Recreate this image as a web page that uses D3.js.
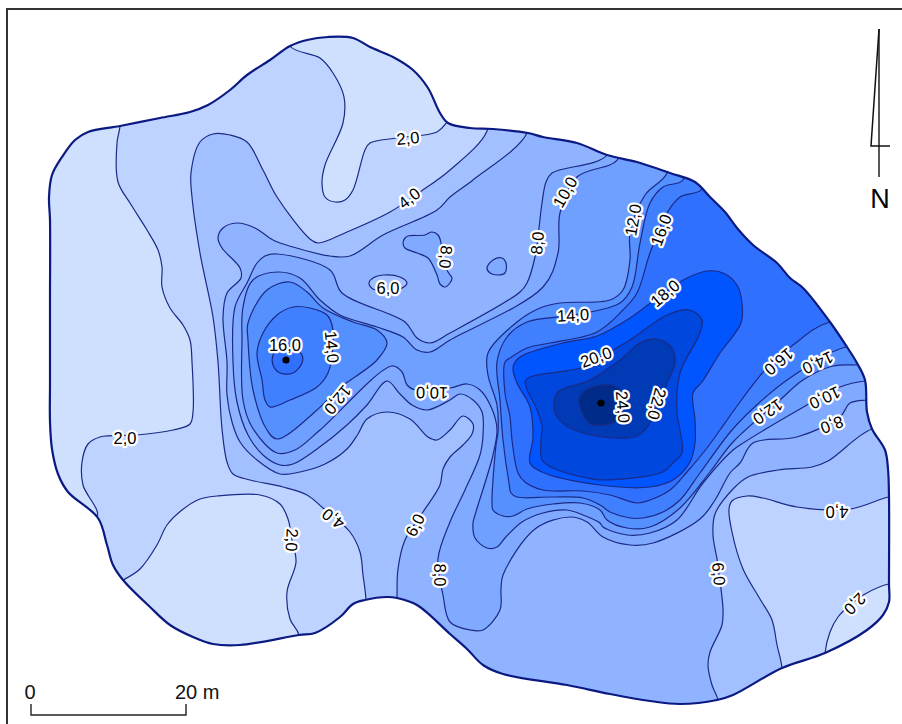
<!DOCTYPE html>
<html>
<head>
<meta charset="utf-8">
<script src="https://cdnjs.cloudflare.com/ajax/libs/d3/7.8.5/d3.min.js"></script>
<style>
html, body { margin: 0; padding: 0; background: #fff; }
svg { display: block; }
</style>
</head>
<body>
<div id="map"></div>
<script>
// Depth contours traced from the survey sheet, in map grid units.
// Rings that leave the site are closed outside it and get clipped by the boundary.
const boundary = [[50,220],[49,197],[52,175],[62,157],[75,140],[88,132],[120,126],[160,118],[190,112],[208,105],[230,90],[247,75],[270,60],[290,46],[307,40],[328,37],[353,38],[370,47],[393,57],[413,70],[428,88],[440,113],[448,123],[470,128],[493,129],[528,133],[543,137],[577,143],[607,155],[637,162],[670,173],[695,182],[710,197],[725,212],[737,228],[753,245],[777,263],[790,278],[803,288],[830,322],[847,347],[857,363],[865,380],[867,412],[872,429],[885,450],[888,469],[889,497],[889,584],[889,602],[883,615],[867,630],[825,653],[782,668],[733,695],[717,700],[680,704],[650,701],[610,694],[567,685],[503,674],[483,665],[467,649],[450,634],[417,605],[397,598],[387,597],[365,600],[353,604],[340,617],[315,633],[299,635],[240,645],[213,644],[193,637],[170,625],[150,607],[123,580],[113,565],[107,545],[98,518],[68,492],[58,474],[52,449],[50,422],[50,382],[50,300]];

const shallowLeft = [[120,126],[117,143],[118,182],[130,203],[147,230],[158,250],[162,267],[162,287],[170,308],[183,325],[190,340],[192,362],[193,412],[190,424],[173,430],[137,435],[100,437],[88,444],[82,462],[83,485],[97,517],[30,530],[30,110],[120,100]];
const shallowBottom = [[123,580],[140,569],[157,545],[167,525],[182,510],[200,499],[217,496],[260,495],[280,504],[288,519],[292,540],[296,562],[287,592],[290,619],[299,635],[299,675],[100,675],[100,590]];
const shallowTop = [[290,46],[320,58],[333,73],[344,97],[343,123],[325,165],[322,183],[325,197],[335,202],[345,200],[353,190],[365,150],[370,143],[397,138],[437,132],[447,122],[460,100],[460,15],[290,15]];
const shallowCorner = [[889,584],[865,594],[850,605],[838,617],[830,632],[825,653],[825,705],[902,705],[902,584]];

const depth4 = [[487,131],[450,170],[420,192],[390,212],[347,232],[318,243],[310,239],[277,197],[263,170],[247,142],[230,135],[213,134],[200,142],[191,173],[192,197],[200,253],[213,317],[218,362],[222,429],[227,462],[233,474],[250,480],[283,487],[307,495],[323,508],[350,532],[360,552],[363,575],[366,600],[366,720],[902,720],[902,100],[487,100]];
const depth4Hole = [[889,497],[850,509],[797,507],[763,498],[747,496],[732,501],[729,509],[732,532],[743,569],[760,599],[772,620],[777,645],[782,668],[782,720],[902,720],[902,497]];

const depth6 = [[527,133],[473,180],[450,197],[437,210],[383,235],[350,256],[330,256],[293,247],[273,240],[255,228],[237,223],[223,228],[218,238],[222,248],[240,268],[241,278],[227,293],[223,317],[227,362],[227,395],[232,422],[240,442],[257,460],[280,474],[300,472],[325,464],[347,449],[358,434],[367,419],[387,412],[410,419],[428,437],[437,440],[450,430],[463,416],[473,424],[472,434],[463,445],[450,457],[443,469],[440,485],[423,512],[405,540],[398,569],[397,598],[397,720],[718,720],[718,700],[712,685],[708,665],[710,652],[722,625],[723,609],[719,574],[717,559],[713,535],[715,514],[733,489],[748,477],[778,470],[812,467],[828,461],[872,429],[902,429],[902,100],[527,100]];
const depth6Island = [[369,283],[373,278],[383,275],[400,277],[407,283],[400,289],[385,291],[373,289]];

const depth8 = [[607,155],[552,173],[546,182],[542,203],[535,257],[527,283],[520,292],[450,333],[430,343],[417,338],[405,322],[342,293],[330,270],[277,254],[265,256],[257,263],[247,283],[235,307],[233,362],[237,402],[248,435],[263,455],[280,465],[293,464],[317,449],[347,425],[367,405],[387,381],[400,394],[412,405],[427,410],[450,400],[460,394],[473,400],[482,412],[483,435],[480,455],[465,490],[450,522],[438,559],[443,595],[450,622],[470,630],[483,630],[500,610],[501,589],[503,575],[535,529],[570,517],[587,522],[603,537],[630,545],[653,543],[700,519],[715,500],[730,473],[740,463],[753,443],[797,437],[840,417],[850,403],[867,400],[902,400],[902,120],[607,120]];
const depth8IslandA = [[405,238],[408,236],[425,235],[432,232],[438,235],[441,243],[441,250],[448,272],[452,278],[450,283],[445,287],[440,284],[437,275],[428,258],[417,253],[405,248],[403,243]];
const depth8IslandB = [[487,268],[493,260],[502,258],[506,263],[505,273],[498,275],[490,273]];

const depth10 = [[618,159],[577,177],[560,213],[558,253],[543,287],[450,340],[430,352],[417,350],[403,337],[377,327],[340,315],[320,300],[300,278],[278,272],[253,280],[243,307],[242,340],[243,400],[252,427],[277,453],[295,450],[320,430],[392,366],[402,372],[407,385],[415,390],[450,388],[467,384],[480,390],[492,409],[497,429],[493,455],[475,515],[473,523],[475,538],[487,548],[497,547],[505,538],[522,522],[543,513],[567,510],[583,515],[600,523],[603,527],[627,535],[650,533],[677,520],[703,483],[733,450],[740,445],[807,405],[840,387],[865,381],[902,381],[902,120],[618,120]];

const depth12East = [[667,173],[645,195],[630,233],[630,260],[623,290],[610,300],[560,303],[540,308],[517,322],[488,353],[488,375],[497,405],[498,432],[496,445],[492,503],[493,510],[503,516],[513,516],[527,509],[553,504],[580,503],[600,510],[607,520],[627,528],[650,527],[680,508],[710,472],[733,442],[780,400],[803,380],[833,366],[860,365],[902,365],[902,130],[667,130]];
const depth12West = [[248,323],[267,290],[290,282],[307,292],[323,308],[353,322],[377,330],[387,343],[377,360],[337,390],[317,410],[277,439],[267,430],[253,390],[248,340]];

const depth14East = [[683,180],[663,187],[650,203],[640,243],[632,287],[620,303],[574,315],[527,322],[507,337],[497,362],[500,400],[503,440],[509,483],[511,493],[517,497],[553,497],[583,498],[600,505],[610,512],[630,518],[643,518],[663,512],[680,500],[700,473],[732,430],[760,402],[790,378],[846,347],[902,347],[902,140],[683,140]];
const depth14West = [[257,353],[263,333],[277,315],[293,307],[310,308],[327,315],[332,325],[333,347],[328,373],[317,387],[290,400],[270,407],[265,400],[262,380]];

const depth16East = [[702,189],[680,197],[667,213],[650,253],[637,293],[623,310],[597,332],[550,343],[527,348],[510,358],[505,362],[505,393],[510,417],[512,440],[518,473],[525,482],[543,490],[583,491],[610,495],[637,503],[650,500],[670,490],[687,472],[707,448],[720,430],[740,402],[765,370],[793,345],[830,322],[902,322],[902,150],[702,150]];
const depth16West = [[273,355],[277,350],[293,348],[302,355],[302,363],[293,373],[280,373],[273,365]];

const depth18 = [[513,367],[520,357],[563,343],[597,336],[630,318],[665,292],[687,278],[707,271],[723,273],[737,285],[742,303],[741,323],[720,353],[702,382],[693,393],[695,420],[695,443],[690,462],[673,480],[650,487],[600,485],[542,472],[530,463],[533,437],[530,407],[517,383]];
const depth20 = [[525,382],[530,377],[580,368],[595,360],[630,340],[667,315],[690,310],[702,320],[700,333],[680,373],[677,413],[680,430],[682,453],[673,463],[663,472],[603,480],[587,478],[553,468],[542,460],[541,440],[542,427],[537,410]];
const depth22 = [[554,407],[558,392],[590,380],[620,360],[640,343],[657,339],[672,348],[675,363],[667,383],[650,423],[637,436],[603,437],[570,428],[558,418]];
const depth24 = [[579,399],[588,389],[610,385],[620,390],[626,400],[622,412],[615,422],[603,425],[590,424],[582,412]];

const c0 = "#cfe0ff", c2 = "#bed3ff", c4 = "#a2c0ff", c6 = "#8fb3ff", c8 = "#80aaff", c10 = "#6f9fff",
      c12 = "#5590ff", c14 = "#4080ff", c16 = "#3070ff", c18 = "#0055ff", c20 = "#0047dd", c22 = "#003ab5", c24 = "#002b88";

// contour label value, then where it sits on the line and its turn
const labelValues = [2,2,2,2,4,4,4,6,6,6,8,8,8,8,10,10,10,12,12,12,14,14,14,16,16,16,18,20,22,24];
const labelSpots = [[125,438,0],[408,138,-5],[292,540,93],[855,604,135],[409,198,-38],[333,519,218],[837,512,180],[388,288,0],[415,525,-63],[719,574,85],[446,257,95],[537,243,-85],[440,575,90],[832,425,160],[565,192,-60],[432,393,181],[825,398,155],[633,220,-80],[338,400,130],[768,412,145],[332,347,85],[573,315,-3],[818,363,155],[285,345,0],[661,230,-70],[779,362,140],[665,293,-40],[596,357,-20],[657,404,105],[623,407,85]];
const peaks = [[286,360],[601,403]];

const width = 902, height = 724;
const x = d3.scaleLinear().domain([0, 902]).range([0, width]);
const y = d3.scaleLinear().domain([0, 724]).range([0, height]);
const barScale = d3.scaleLinear().domain([0, 20]).range([31, 186]);

const ring = d3.line().x(d => x(d[0])).y(d => y(d[1])).curve(d3.curveCatmullRomClosed.alpha(0.5));
const commaFmt = v => v.toFixed(1).replace(".", ",");

const svg = d3.select("#map").append("svg").attr("width", width).attr("height", height);

svg.append("clipPath").attr("id", "site").append("path").attr("d", ring(boundary));

// frame, only top and left show on the sheet
svg.append("path")
    .attr("d", "M7,724V9H902")
    .attr("fill", "none")
    .attr("stroke", "#333")
    .attr("stroke-width", 2);

const g = svg.append("g").attr("clip-path", "url(#site)");

g.append("path").attr("d", ring(boundary)).attr("fill", c2);

const layers = [
    [shallowLeft, c0], [shallowBottom, c0], [shallowTop, c0],
    [depth4, c4], [depth4Hole, c2], [shallowCorner, c0],
    [depth6, c6], [depth6Island, c4],
    [depth8, c8], [depth8IslandA, c8], [depth8IslandB, c8],
    [depth10, c10],
    [depth12East, c12], [depth12West, c12],
    [depth14East, c14], [depth14West, c14],
    [depth16East, c16], [depth16West, c16],
    [depth18, c18], [depth20, c20], [depth22, c22], [depth24, c24]
];

g.selectAll("path.band")
    .data(layers)
    .enter()
    .append("path")
    .attr("class", "band")
    .attr("d", d => ring(d[0]))
    .attr("fill", d => d[1])
    .attr("stroke", "#1b2a86")
    .attr("stroke-width", 1.2);

svg.append("path")
    .attr("d", ring(boundary))
    .attr("fill", "none")
    .attr("stroke", "#0b1a82")
    .attr("stroke-width", 2.2);

svg.selectAll("circle.peak")
    .data(peaks)
    .enter()
    .append("circle")
    .attr("class", "peak")
    .attr("cx", d => x(d[0]))
    .attr("cy", d => y(d[1]))
    .attr("r", 3.6)
    .attr("fill", "#000");

svg.selectAll("text.lab")
    .data(labelValues)
    .enter()
    .append("text")
    .attr("class", "lab")
    .attr("transform", (d, i) => "translate(" + x(labelSpots[i][0]) + "," + y(labelSpots[i][1]) + ") rotate(" + labelSpots[i][2] + ")")
    .attr("text-anchor", "middle")
    .attr("dy", "0.36em")
    .attr("font-family", "'Liberation Sans', Arial, sans-serif")
    .attr("font-size", 16.5)
    .attr("fill", "#000")
    .attr("stroke", "#fff")
    .attr("stroke-width", 4.5)
    .attr("stroke-linejoin", "round")
    .attr("paint-order", "stroke")
    .text(d => commaFmt(d));

// north arrow
const north = svg.append("g").attr("fill", "none").attr("stroke", "#111");
north.append("path").attr("d", "M879,29V177").attr("stroke-width", 1.4);
north.append("path").attr("d", "M879,29L871,146H890").attr("stroke-width", 1.5);
svg.append("text")
    .attr("x", 880).attr("y", 208)
    .attr("text-anchor", "middle")
    .attr("font-family", "'Liberation Sans', Arial, sans-serif")
    .attr("font-size", 27)
    .attr("fill", "#000")
    .text("N");

// scale bar
svg.append("path")
    .attr("d", "M" + barScale(0) + ",704V715H" + barScale(20) + "V704")
    .attr("fill", "none")
    .attr("stroke", "#222")
    .attr("stroke-width", 1.4);
svg.append("text")
    .attr("x", 30).attr("y", 699)
    .attr("text-anchor", "middle")
    .attr("font-family", "'Liberation Sans', Arial, sans-serif")
    .attr("font-size", 20)
    .attr("fill", "#111")
    .text("0");
svg.append("text")
    .attr("x", 175).attr("y", 699)
    .attr("font-family", "'Liberation Sans', Arial, sans-serif")
    .attr("font-size", 20)
    .attr("fill", "#111")
    .text("20 m");
</script>
</body>
</html>
